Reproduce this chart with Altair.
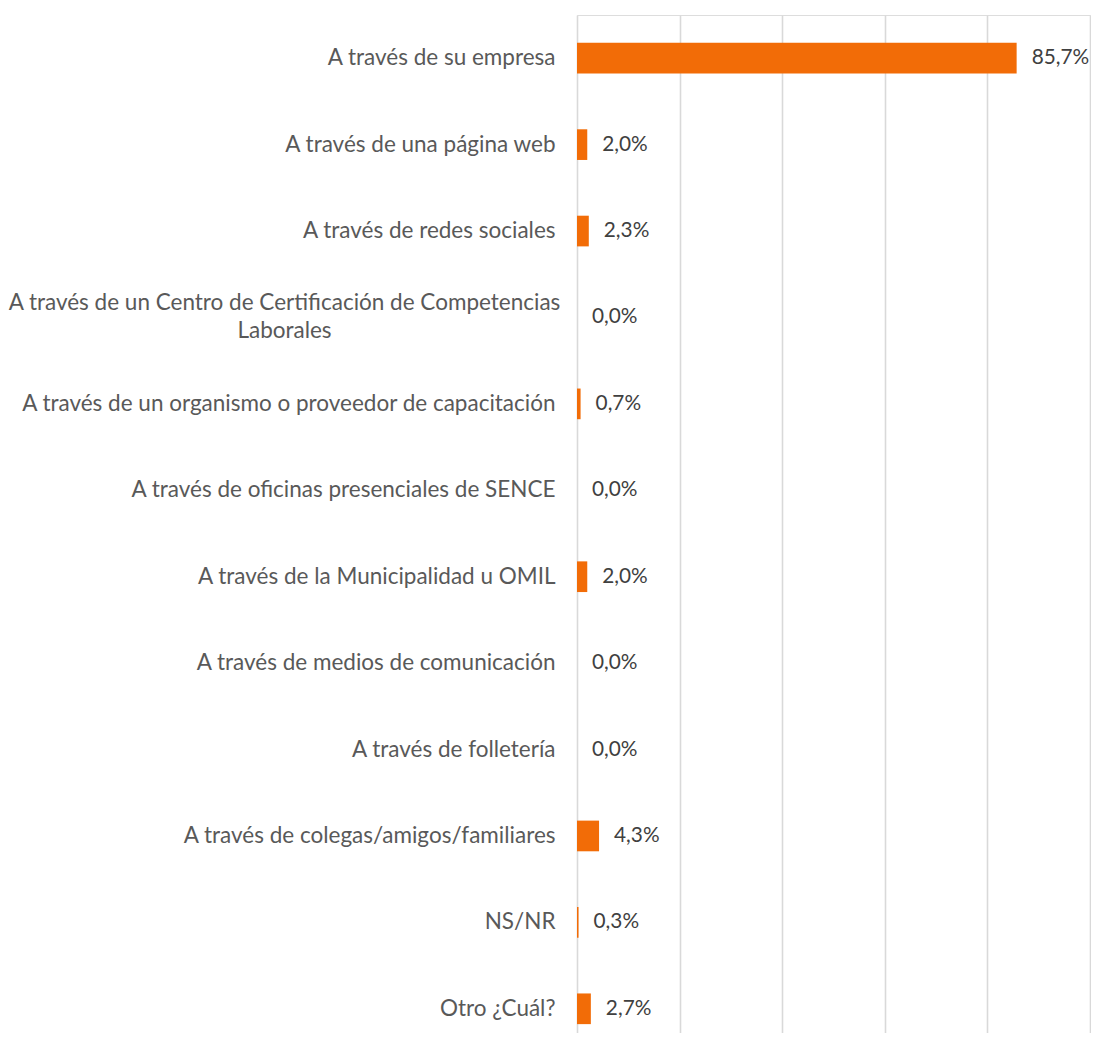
import altair as alt
import pandas as pd

categories = [
    "A través de su empresa",
    "A través de una página web",
    "A través de redes sociales",
    "A través de un Centro de Certificación de Competencias\nLaborales",
    "A través de un organismo o proveedor de capacitación",
    "A través de oficinas presenciales de SENCE",
    "A través de la Municipalidad u OMIL",
    "A través de medios de comunicación",
    "A través de folletería",
    "A través de colegas/amigos/familiares",
    "NS/NR",
    "Otro ¿Cuál?",
]
values = [85.7, 2.0, 2.3, 0.0, 0.7, 0.0, 2.0, 0.0, 0.0, 4.3, 0.3, 2.7]
x_ticks = [0, 20, 40, 60, 80, 100]

df = pd.DataFrame({"cat": categories, "val": values})
df["lab"] = [f"{v:.1f}".replace(".", ",") + "%" for v in values]

FONT = "Lato"
IS_ML = "indexof(datum.value, '\\n') >= 0"

y_axis = alt.Axis(
    domain=False,
    ticks=False,
    labelFont=FONT,
    labelFontSize=22.5,
    labelColor="#595959",
    labelLimit=1000,
    labelLineHeight=28,
    labelExpr="split(datum.label, '\\n')",
    labelAlign={"condition": {"test": IS_ML, "value": "center"}, "value": "right"},
    labelPadding={"condition": {"test": IS_ML, "value": 293}, "value": 22},
    labelOffset={"condition": {"test": IS_ML, "value": -14}, "value": 0},
)
y_scale = alt.Scale(range=[0, 1037], paddingInner=0.645, paddingOuter=0.3225, round=False)

x_axis = alt.Axis(
    orient="top",
    values=x_ticks,
    labels=False,
    ticks=False,
    domain=False,
    grid=True,
    gridColor="#D9D9D9",
    gridWidth=1.6,
)
x_scale = alt.Scale(domain=[0, 100], nice=False)

bars = alt.Chart(df).mark_bar(color="#F26C07").encode(
    x=alt.X("val:Q", title=None, scale=x_scale, axis=x_axis),
    y=alt.Y("cat:N", sort=categories, title=None, scale=y_scale, axis=y_axis),
)
text = alt.Chart(df).mark_text(
    align="left", baseline="middle", dx=15, font=FONT, fontSize=20.8, color="#404040"
).encode(
    x=alt.X("val:Q", title=None, scale=x_scale, axis=x_axis),
    y=alt.Y("cat:N", sort=categories, title=None, scale=y_scale, axis=y_axis),
    text="lab:N",
)

chart = (
    alt.layer(bars, text)
    .properties(
        width=513,
        height=1018,
        autosize=alt.AutoSizeParams(type="none"),
        padding={"left": 569, "top": 7, "right": 1, "bottom": 0},
    )
    .configure_view(strokeWidth=0)
    .configure(background="white")
)

chart.save("out.html", embed_options={"renderer": "svg", "actions": False})
